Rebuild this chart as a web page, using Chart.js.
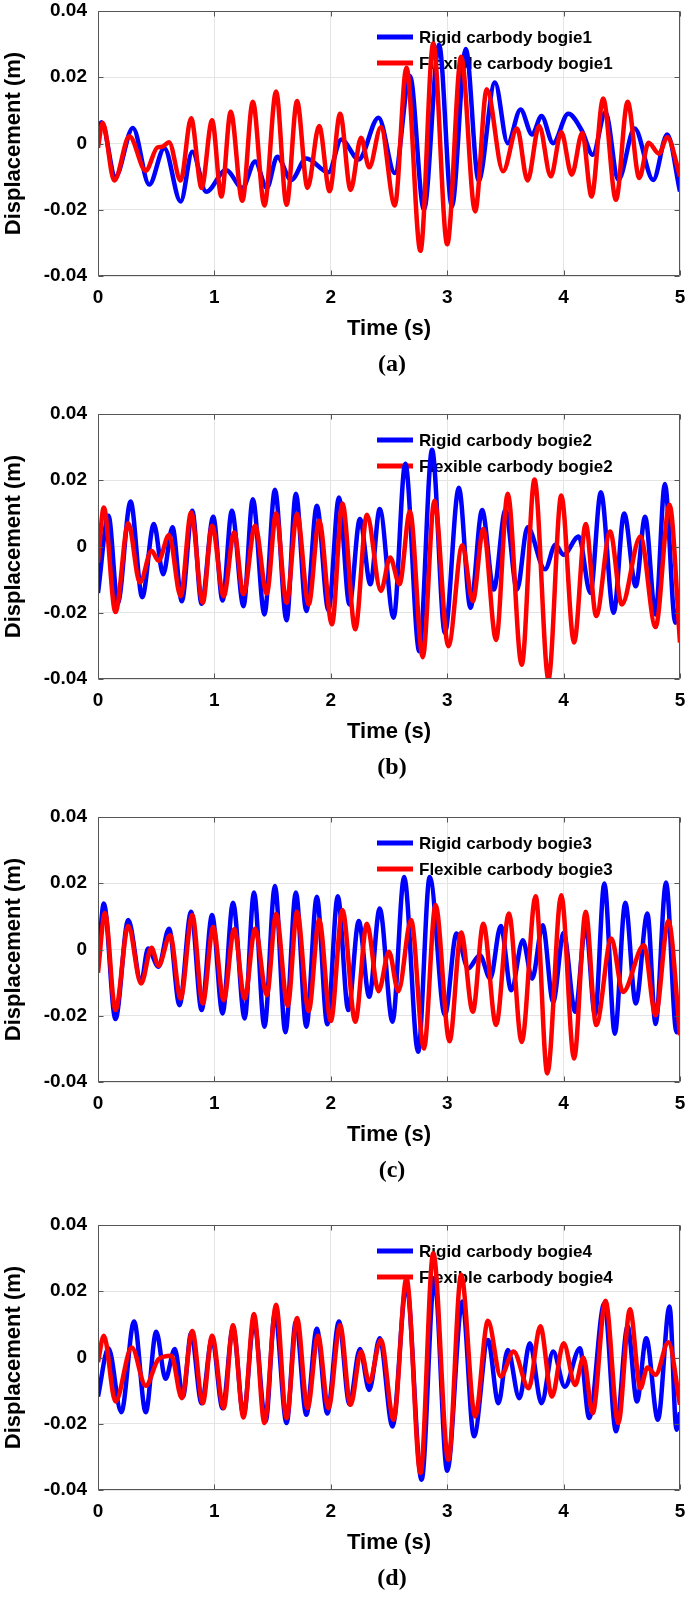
<!DOCTYPE html>
<html>
<head>
<meta charset="utf-8">
<script src="https://cdn.jsdelivr.net/npm/chart.js@4.4.1/dist/chart.umd.min.js"></script>
<style>
  html, body { margin: 0; padding: 0; background: #ffffff; }
  body { width: 685px; height: 1599px; position: relative; overflow: hidden; }
  .panel { position: absolute; left: 0; width: 685px; height: 400px; }
  .caption { position: absolute; width: 100px; left: 342px; text-align: center;
             font-family: "Liberation Serif", "Times New Roman", serif; font-weight: bold; font-size: 24px; line-height: 28px; color: #000; }
</style>
</head>
<body>
<script>
// ---- axis ticks ----
const xTickValues = [0, 1, 2, 3, 4, 5];
const xTickLabels = ["0", "1", "2", "3", "4", "5"];
const yTickValues = [-0.04, -0.02, 0, 0.02, 0.04];
const yTickLabels = ["-0.04", "-0.02", "0", "0.02", "0.04"];
const xTitle = "Time (s)";
const yTitle = "Displacement (m)";
const captions = ["(a)", "(b)", "(c)", "(d)"];
const rigidLabels = ["Rigid carbody bogie1", "Rigid carbody bogie2", "Rigid carbody bogie3", "Rigid carbody bogie4"];
const flexLabels = ["Flexible carbody bogie1", "Flexible carbody bogie2", "Flexible carbody bogie3", "Flexible carbody bogie4"];

// ---- panel (a) ----
const rigid1T = [0, 0.03, 0.15, 0.30, 0.44, 0.57, 0.71, 0.81, 0.93, 1.10, 1.24, 1.35, 1.45, 1.54, 1.66, 1.79, 1.98, 2.09, 2.24, 2.41, 2.55, 2.68, 2.80, 2.93, 3.04, 3.16, 3.27, 3.41, 3.52, 3.63, 3.73, 3.81, 3.91, 4.04, 4.16, 4.25, 4.36, 4.47, 4.61, 4.77, 4.89, 5.0];
const rigid1V = [0.0042, 0.0064, -0.010, 0.0047, -0.0124, -0.0014, -0.0175, -0.0025, -0.0146, -0.0080, -0.0134, -0.0054, -0.0134, -0.0040, -0.0110, -0.0045, -0.0087, 0.0012, -0.0048, 0.0078, -0.0089, 0.0204, -0.0200, 0.0298, -0.0190, 0.0285, -0.0112, 0.0184, 0.0001, 0.0103, 0.0027, 0.0083, 0.0001, 0.0090, 0.0037, -0.0034, 0.0094, -0.0110, 0.0045, -0.0110, 0.0027, -0.0145];
const flex1T = [0, 0.04, 0.14, 0.27, 0.41, 0.51, 0.55, 0.61, 0.71, 0.80, 0.89, 0.98, 1.06, 1.14, 1.24, 1.33, 1.43, 1.53, 1.62, 1.71, 1.80, 1.90, 1.99, 2.08, 2.17, 2.26, 2.33, 2.43, 2.55, 2.65, 2.77, 2.88, 3.00, 3.12, 3.24, 3.34, 3.48, 3.60, 3.69, 3.79, 3.89, 3.98, 4.07, 4.16, 4.24, 4.34, 4.45, 4.55, 4.65, 4.73, 4.82, 4.89, 5.0];
const flex1V = [-0.0013, 0.0063, -0.0112, 0.0022, -0.0082, -0.0012, -0.0010, 0.0004, -0.0112, 0.0076, -0.0134, 0.0070, -0.0160, 0.0096, -0.0173, 0.0126, -0.0187, 0.0157, -0.0185, 0.0128, -0.0134, 0.0053, -0.0144, 0.0090, -0.0140, 0.0017, -0.0072, 0.0049, -0.0187, 0.0229, -0.0324, 0.0302, -0.0304, 0.0262, -0.0205, 0.0164, -0.0084, 0.0045, -0.0112, 0.0053, -0.0099, 0.0034, -0.0094, 0.0032, -0.0160, 0.0136, -0.0170, 0.0126, -0.0104, 0.0002, -0.0031, 0.0019, -0.0099];

// ---- panel (b) ----
const rigid2T = [0, 0.09, 0.17, 0.28, 0.38, 0.48, 0.56, 0.64, 0.72, 0.81, 0.89, 0.99, 1.07, 1.15, 1.25, 1.33, 1.43, 1.52, 1.62, 1.70, 1.79, 1.88, 1.98, 2.07, 2.16, 2.25, 2.34, 2.42, 2.54, 2.64, 2.76, 2.87, 2.98, 3.10, 3.20, 3.30, 3.40, 3.50, 3.60, 3.69, 3.84, 3.93, 4.00, 4.13, 4.23, 4.32, 4.43, 4.52, 4.62, 4.70, 4.79, 4.87, 4.96, 5.0];
const rigid2V = [-0.014, 0.0093, -0.0170, 0.0136, -0.0153, 0.0068, -0.0084, 0.0058, -0.0165, 0.0108, -0.0173, 0.0090, -0.0163, 0.0108, -0.0180, 0.0143, -0.0205, 0.0171, -0.0223, 0.0159, -0.0195, 0.0123, -0.0193, 0.0148, -0.0175, 0.0083, -0.0114, 0.0113, -0.0215, 0.0250, -0.0316, 0.0292, -0.0260, 0.0177, -0.0185, 0.0110, -0.0130, 0.0110, -0.0130, 0.0058, -0.0069, 0.0005, -0.0025, 0.0030, -0.0140, 0.0164, -0.0200, 0.0100, -0.0120, 0.0090, -0.0205, 0.0189, -0.0230, -0.0142];
const flex2T = [0, 0.05, 0.15, 0.26, 0.36, 0.46, 0.52, 0.61, 0.71, 0.80, 0.90, 0.98, 1.08, 1.17, 1.25, 1.35, 1.45, 1.53, 1.62, 1.71, 1.81, 1.90, 2.01, 2.10, 2.21, 2.31, 2.43, 2.51, 2.59, 2.68, 2.79, 2.89, 3.01, 3.13, 3.22, 3.31, 3.42, 3.52, 3.64, 3.75, 3.87, 3.98, 4.09, 4.19, 4.28, 4.40, 4.50, 4.66, 4.79, 4.91, 5.0];
const flex2V = [-0.0048, 0.0118, -0.0198, 0.0070, -0.0109, -0.0013, -0.0043, 0.0035, -0.0150, 0.0103, -0.0170, 0.0063, -0.0150, 0.0042, -0.0144, 0.0063, -0.0142, 0.0100, -0.0170, 0.0098, -0.0175, 0.0078, -0.0235, 0.0130, -0.0250, 0.0096, -0.0134, -0.0033, -0.0114, 0.0106, -0.0334, 0.0138, -0.0301, 0.0004, -0.0165, 0.0053, -0.0282, 0.0159, -0.0357, 0.0202, -0.0400, 0.0154, -0.0290, 0.0068, -0.0210, 0.0045, -0.0175, 0.0030, -0.0243, 0.0126, -0.0290];

// ---- panel (c) ----
const rigid3T = [0, 0.05, 0.15, 0.26, 0.37, 0.43, 0.52, 0.61, 0.70, 0.80, 0.89, 0.98, 1.07, 1.16, 1.26, 1.34, 1.43, 1.52, 1.61, 1.70, 1.79, 1.88, 1.97, 2.06, 2.15, 2.24, 2.33, 2.42, 2.53, 2.63, 2.75, 2.85, 2.98, 3.08, 3.18, 3.28, 3.37, 3.46, 3.55, 3.65, 3.73, 3.82, 3.91, 4.00, 4.10, 4.19, 4.27, 4.35, 4.44, 4.53, 4.62, 4.72, 4.79, 4.88, 4.97, 5.0];
const rigid3V = [-0.005, 0.0139, -0.0210, 0.0089, -0.0098, 0.0003, -0.0052, 0.0063, -0.0168, 0.0114, -0.0183, 0.0104, -0.0193, 0.0141, -0.0208, 0.0172, -0.0233, 0.0192, -0.0250, 0.0172, -0.0233, 0.0159, -0.0226, 0.0161, -0.0183, 0.0086, -0.0143, 0.0124, -0.0218, 0.0219, -0.0309, 0.0219, -0.0198, 0.0048, -0.0057, -0.0017, -0.0088, 0.0071, -0.0123, 0.0028, -0.0088, 0.0073, -0.0158, 0.0050, -0.0188, 0.0073, -0.0198, 0.0199, -0.0254, 0.0141, -0.0163, 0.0109, -0.0225, 0.0202, -0.0250, -0.0170];
const flex3T = [0, 0.06, 0.15, 0.26, 0.37, 0.46, 0.52, 0.62, 0.71, 0.81, 0.90, 0.99, 1.08, 1.17, 1.26, 1.35, 1.45, 1.53, 1.63, 1.71, 1.81, 1.90, 2.00, 2.10, 2.21, 2.31, 2.41, 2.50, 2.58, 2.69, 2.80, 2.90, 3.02, 3.12, 3.22, 3.31, 3.42, 3.53, 3.64, 3.76, 3.86, 3.98, 4.09, 4.19, 4.28, 4.41, 4.51, 4.69, 4.79, 4.90, 5.0];
const flex3V = [-0.0070, 0.0110, -0.0183, 0.0071, -0.0103, 0.0005, -0.0049, 0.0043, -0.0148, 0.0104, -0.0163, 0.0068, -0.0153, 0.0061, -0.0148, 0.0063, -0.0138, 0.0107, -0.0170, 0.0114, -0.0186, 0.0090, -0.0216, 0.0119, -0.0218, 0.0078, -0.0126, -0.0007, -0.0126, 0.0089, -0.0299, 0.0134, -0.0277, 0.0051, -0.0188, 0.0078, -0.0228, 0.0109, -0.0279, 0.0161, -0.0374, 0.0164, -0.0329, 0.0114, -0.0228, 0.0033, -0.0128, 0.0013, -0.0198, 0.0086, -0.0259];

// ---- panel (d) ----
const rigid4T = [0, 0.09, 0.20, 0.31, 0.41, 0.50, 0.58, 0.66, 0.73, 0.80, 0.89, 0.98, 1.07, 1.16, 1.25, 1.34, 1.44, 1.52, 1.62, 1.70, 1.79, 1.88, 1.97, 2.07, 2.16, 2.25, 2.33, 2.42, 2.53, 2.65, 2.78, 2.89, 3.00, 3.13, 3.23, 3.35, 3.44, 3.52, 3.62, 3.71, 3.81, 3.91, 4.01, 4.14, 4.22, 4.35, 4.45, 4.55, 4.63, 4.71, 4.81, 4.91, 4.97, 5.0];
const rigid4V = [-0.0118, 0.0028, -0.0165, 0.0109, -0.0165, 0.0078, -0.0064, 0.0026, -0.0118, 0.0073, -0.0138, 0.0058, -0.0153, 0.0089, -0.0173, 0.0109, -0.0193, 0.0134, -0.0198, 0.0109, -0.0173, 0.0087, -0.0169, 0.0109, -0.0141, 0.0026, -0.0098, 0.0058, -0.0208, 0.0219, -0.0369, 0.0240, -0.0342, 0.0169, -0.0238, 0.0053, -0.0138, 0.0023, -0.0123, 0.0043, -0.0138, 0.0018, -0.0088, 0.0028, -0.0183, 0.0164, -0.0223, 0.0094, -0.0133, 0.0058, -0.0188, 0.0154, -0.0218, -0.0165];
const flex4T = [0, 0.05, 0.15, 0.29, 0.41, 0.52, 0.63, 0.72, 0.81, 0.90, 0.98, 1.08, 1.16, 1.25, 1.34, 1.43, 1.53, 1.62, 1.71, 1.80, 1.89, 1.98, 2.08, 2.17, 2.26, 2.33, 2.43, 2.54, 2.65, 2.77, 2.88, 3.01, 3.12, 3.24, 3.35, 3.46, 3.57, 3.70, 3.80, 3.90, 4.00, 4.10, 4.17, 4.25, 4.36, 4.47, 4.57, 4.66, 4.72, 4.79, 4.90, 5.0];
const flex4V = [-0.0014, 0.0066, -0.0133, 0.0030, -0.0085, -0.0005, 0.0005, -0.0123, 0.0080, -0.0138, 0.0066, -0.0153, 0.0097, -0.0181, 0.0131, -0.0198, 0.0159, -0.0183, 0.0119, -0.0153, 0.0066, -0.0153, 0.0097, -0.0143, 0.0018, -0.0074, 0.0053, -0.0188, 0.0239, -0.0349, 0.0315, -0.0309, 0.0250, -0.0178, 0.0111, -0.0057, 0.0018, -0.0093, 0.0094, -0.0118, 0.0043, -0.0083, 0.0000, -0.0168, 0.0171, -0.0198, 0.0146, -0.0093, -0.0030, -0.0052, 0.0046, -0.0143];

const panels = [
  { rT: rigid1T, rV: rigid1V, fT: flex1T, fV: flex1V },
  { rT: rigid2T, rV: rigid2V, fT: flex2T, fV: flex2V },
  { rT: rigid3T, rV: rigid3V, fT: flex3T, fV: flex3V },
  { rT: rigid4T, rV: rigid4V, fT: flex4T, fV: flex4V }
];

// ---- layout (pixels) ----
const plotTops = [11, 414, 817, 1225];
const PLOT_H = 265, CANVAS_H = 400, TOP_PAD = 11, AXIS_W = 98, RIGHT_PAD = 5;
const SANS = '"Liberation Sans", Arial, Helvetica, sans-serif';

const toPts = (t, v) => t.map((x, i) => ({ x: x, y: v[i] }));

const framePlugin = {
  id: 'frame',
  beforeDatasetsDraw(chart) {
    const ctx = chart.ctx, ca = chart.chartArea;
    ctx.save();
    chart.data.datasets.forEach((ds, i) => {
      const y = ca.top + 26 + i * 26;
      ctx.strokeStyle = ds.borderColor;
      ctx.lineWidth = 5;
      ctx.beginPath();
      ctx.moveTo(ca.left + 279, y);
      ctx.lineTo(ca.left + 315, y);
      ctx.stroke();
      ctx.fillStyle = '#000';
      ctx.font = 'bold 17px ' + SANS;
      ctx.textBaseline = 'middle';
      ctx.textAlign = 'left';
      ctx.fillText(ds.label, ca.left + 321, y + 1);
    });
    ctx.restore();
  },
  afterDatasetsDraw(chart) {
    const ctx = chart.ctx, ca = chart.chartArea;
    const xs = chart.scales.x, ys = chart.scales.y;
    ctx.save();
    ctx.strokeStyle = '#555555';
    ctx.lineWidth = 1;
    ctx.beginPath();
    const L = Math.round(ca.left) + 0.5, R = Math.round(ca.right) - 0.5;
    const T = Math.round(ca.top) + 0.5, B = Math.round(ca.bottom) - 0.5;
    ctx.rect(L, T, R - L, B - T);
    xTickValues.forEach(v => {
      const px = Math.round(xs.getPixelForValue(v)) + 0.5;
      ctx.moveTo(px, B); ctx.lineTo(px, B - 5);
      ctx.moveTo(px, T); ctx.lineTo(px, T + 5);
    });
    yTickValues.forEach(v => {
      const py = Math.round(ys.getPixelForValue(v)) + 0.5;
      ctx.moveTo(L, py); ctx.lineTo(L + 5, py);
      ctx.moveTo(R, py); ctx.lineTo(R - 5, py);
    });
    ctx.stroke();
    ctx.restore();
  }
};

panels.forEach((p, k) => {
  const div = document.createElement('div');
  div.className = 'panel';
  div.style.top = (plotTops[k] - TOP_PAD) + 'px';
  const canvas = document.createElement('canvas');
  canvas.width = 685; canvas.height = CANVAS_H;
  canvas.style.width = '685px'; canvas.style.height = CANVAS_H + 'px';
  div.appendChild(canvas);
  document.body.appendChild(div);

  const cap = document.createElement('div');
  cap.className = 'caption';
  cap.textContent = captions[k];
  cap.style.top = (plotTops[k] + PLOT_H + 87 - 14) + 'px';
  document.body.appendChild(cap);

  new Chart(canvas.getContext('2d'), {
    type: 'line',
    data: {
      datasets: [
        { label: rigidLabels[k], data: toPts(p.rT, p.rV), borderColor: '#0000ff', borderWidth: 4.5, order: 2,
          pointRadius: 0, fill: false, cubicInterpolationMode: 'monotone' },
        { label: flexLabels[k], data: toPts(p.fT, p.fV), borderColor: '#ff0000', borderWidth: 4.5, order: 1,
          pointRadius: 0, fill: false, cubicInterpolationMode: 'monotone' }
      ]
    },
    options: {
      responsive: false,
      animation: false,
      devicePixelRatio: 1,
      layout: { padding: { top: TOP_PAD, right: RIGHT_PAD, left: 0, bottom: 0 } },
      plugins: { legend: { display: false }, tooltip: { enabled: false } },
      scales: {
        x: {
          type: 'linear', min: 0, max: 5,
          afterBuildTicks: s => { s.ticks = xTickValues.map(v => ({ value: v })); },
          afterFit: s => { s.height = CANVAS_H - TOP_PAD - PLOT_H; s.paddingLeft = 0; s.paddingRight = 0; },
          ticks: { callback: (v, i) => xTickLabels[i], color: '#000', padding: 10, maxRotation: 0,
                   font: { family: SANS, weight: 'bold', size: 19 } },
          grid: { color: '#e4e4e4', lineWidth: 1, drawTicks: false },
          border: { display: false },
          title: { display: true, text: xTitle, color: '#000', padding: { top: 0, bottom: 58 },
                   font: { family: SANS, weight: 'bold', size: 22 } }
        },
        y: {
          type: 'linear', min: -0.04, max: 0.04,
          afterBuildTicks: s => { s.ticks = yTickValues.map(v => ({ value: v })); },
          afterFit: s => { s.width = AXIS_W; s.paddingTop = 0; s.paddingBottom = 0; },
          ticks: { callback: (v, i) => yTickLabels[i], color: '#000', padding: 11,
                   font: { family: SANS, weight: 'bold', size: 19 } },
          grid: { color: '#e4e4e4', lineWidth: 1, drawTicks: false },
          border: { display: false },
          title: { display: true, text: yTitle, color: '#000', padding: { top: 1, bottom: 0 },
                   font: { family: SANS, weight: 'bold', size: 22 } }
        }
      }
    },
    plugins: [framePlugin]
  });
});
</script>
</body>
</html>
